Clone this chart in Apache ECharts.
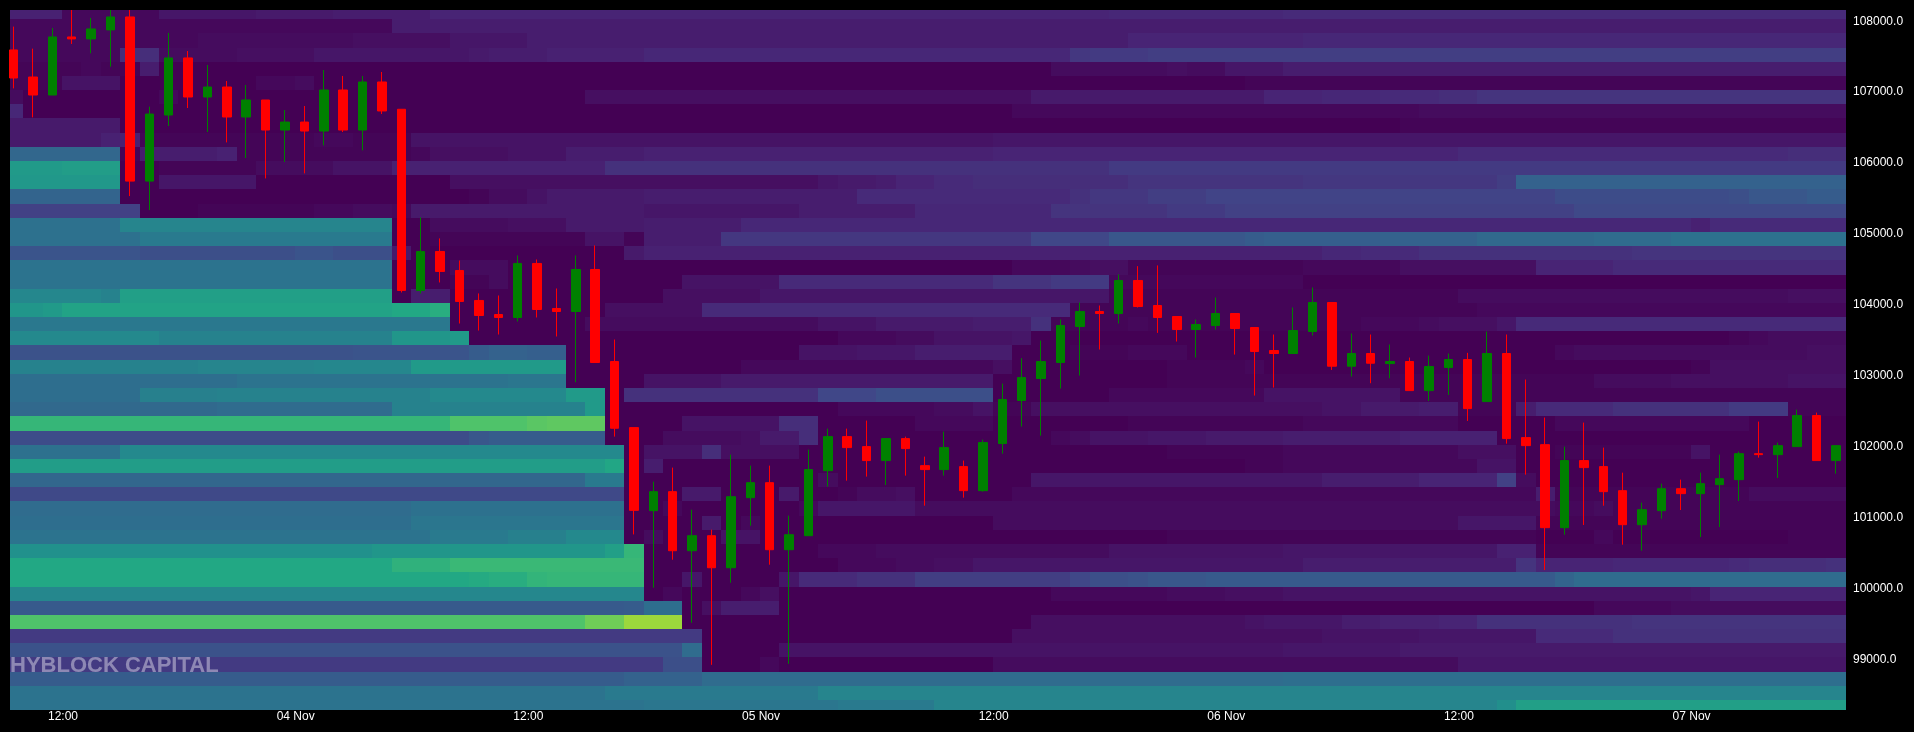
<!DOCTYPE html>
<html>
<head>
<meta charset="utf-8">
<title>HYBLOCK CAPITAL</title>
<style>
  html, body { margin: 0; padding: 0; background: #000; }
  #chart { width: 1914px; height: 732px; }
</style>
<script src="https://cdn.jsdelivr.net/npm/echarts@6/dist/echarts.min.js"></script>
</head>
<body>
<div id="chart"></div>
<script>
// hourly candles, first one opens 03 Nov 09:00 UTC
const HOUR = 3600000
const firstCandle = Date.UTC(2025, 10, 3, 9)
const axisStart = Date.UTC(2025, 10, 3, 9, 19)
const axisEnd = Date.UTC(2025, 10, 7, 8, 4)

const xTicks = ['2025-11-03T12:00Z', '2025-11-04T00:00Z', '2025-11-04T12:00Z', '2025-11-05T00:00Z',
  '2025-11-05T12:00Z', '2025-11-06T00:00Z', '2025-11-06T12:00Z', '2025-11-07T00:00Z']
const yTicks = [99000, 100000, 101000, 102000, 103000, 104000, 105000, 106000, 107000, 108000]
const monthNames = ['Jan', 'Feb', 'Mar', 'Apr', 'May', 'Jun', 'Jul', 'Aug', 'Sep', 'Oct', 'Nov', 'Dec']

const opens = [107567, 107185, 106931, 107750, 107722, 107849, 108032, 105717, 106649, 107454, 106903, 107044, 106621, 106861, 106437, 106550, 106423, 107002, 106437, 107115,
  106730, 104175, 104725, 104457, 104034, 103836, 103794, 104556, 103921, 103878, 104471, 103173, 102241, 101070, 101338, 100505, 100717, 100265, 101253, 101465,
  100519, 100717, 101634, 102114, 101973, 101776, 102086, 101705, 101649, 101691, 101352, 102016, 102623, 102933, 103159, 103667, 103878, 103850, 104316, 103963,
  103808, 103624, 103681, 103850, 103653, 103328, 103286, 103596, 104005, 103107, 103286, 103144, 103173, 102763, 103088, 103201, 102608, 103286, 102100, 102001,
  100830, 101776, 101691, 101352, 100872, 101070, 101380, 101310, 101437, 101507, 101874, 101860, 101973, 102411, 101776]
const closes = [107171, 106931, 107750, 107722, 107863, 108032, 105717, 106663, 107454, 106903, 107044, 106621, 106861, 106437, 106550, 106423, 107002, 106437, 107115, 106706,
  104175, 104725, 104443, 104020, 103822, 103794, 104556, 103907, 103878, 104471, 103159, 102232, 101074, 101338, 100505, 100717, 100265, 101267, 101465, 100519,
  100731, 101649, 102114, 101959, 101776, 102086, 101945, 101649, 101959, 101352, 102030, 102637, 102947, 103173, 103681, 103878, 103850, 104316, 103949, 103794,
  103624, 103695, 103850, 103638, 103314, 103286, 103610, 104005, 103107, 103286, 103149, 103173, 102763, 103102, 103201, 102509, 103286, 102086, 101987, 100830,
  101776, 101677, 101338, 100872, 101084, 101380, 101310, 101451, 101521, 101874, 101860, 101987, 102411, 101776, 101987]
const lows = [107025, 106616, 106931, 107651, 107520, 107331, 105506, 105308, 106494, 106748, 106409, 106263, 106042, 105755, 105986, 105826, 106221, 106409, 106150, 106663,
  104147, 104133, 104288, 103709, 103610, 103554, 103737, 103794, 103526, 102881, 103154, 102114, 100735, 99983, 100378, 99489, 98896, 100054, 100858, 100308,
  98910, 100717, 101409, 101493, 101550, 101432, 101564, 101140, 101564, 101253, 101338, 101874, 102256, 102128, 102792, 102975, 103342, 103709, 103935, 103577,
  103455, 103229, 103624, 103271, 102693, 102806, 103286, 103540, 103055, 102961, 102867, 102937, 102763, 102617, 102702, 102335, 102608, 102015, 101578, 100232,
  100731, 100868, 101140, 100590, 100505, 100957, 101079, 100698, 100839, 101206, 101818, 101531, 101973, 101776, 101592]
const highs = [107896, 107585, 107877, 108130, 108018, 108130, 108130, 106767, 107807, 107552, 107355, 107129, 107073, 106861, 106720, 106776, 107284, 107200, 107200, 107256,
  106730, 105205, 104909, 104598, 104133, 104104, 104669, 104612, 104203, 104669, 104810, 103483, 102241, 101479, 101677, 101084, 100802, 101860, 101705, 101705,
  101000, 101931, 102227, 102227, 102340, 102086, 102114, 101832, 102185, 101776, 102072, 102862, 103220, 103469, 103766, 104005, 103963, 104401, 104518, 104528,
  103808, 103766, 104076, 103850, 103653, 103554, 103935, 104217, 104005, 103568, 103554, 103413, 103229, 103257, 103286, 103295, 103596, 103554, 102919, 102383,
  101973, 102312, 101959, 101606, 101183, 101451, 101507, 101606, 101860, 101903, 102326, 102030, 102495, 102453, 101987]

// lower edge of each 200-wide price bin, top row first
const priceBins = [108000, 107800, 107600, 107400, 107200, 107000, 106800, 106600, 106400, 106200,
  106000, 105800, 105600, 105400, 105200, 105000, 104800, 104600, 104400, 104200,
  104000, 103800, 103600, 103400, 103200, 103000, 102800, 102600, 102400, 102200,
  102000, 101800, 101600, 101400, 101200, 101000, 100800, 100600, 100400, 100200,
  100000, 99800, 99600, 99400, 99200, 99000, 98800, 98600, 98400, 98200]

// one row per price bin, pairs of: candle index where the run starts, liquidity level (0-100)
const liquidityRuns = [
  [0, 9, 3, 2, 8, 6, 13, 7, 17, 8, 22, 10, 57, 11, 66, 12],
  [0, 2, 20, 8],
  [0, 2, 10, 3, 18, 4, 23, 6, 27, 8, 58, 10, 67, 11],
  [0, 2, 6, 13, 8, 3, 12, 4, 16, 6, 24, 7, 25, 8, 28, 9, 33, 11, 55, 16, 56, 17, 59, 18],
  [0, 1, 4, 2, 5, 1, 7, 8, 8, 0, 54, 3, 60, 4, 61, 3, 63, 6, 66, 8],
  [0, 1, 3, 5, 6, 0, 13, 2, 15, 3, 16, 0, 64, 1],
  [0, 3, 1, 0, 8, 2, 9, 0, 30, 4, 53, 7, 65, 10, 68, 11, 71, 12, 74, 13, 76, 15],
  [0, 11, 1, 0, 52, 2, 73, 3],
  [0, 7, 6, 0, 72, 1],
  [0, 7, 5, 9, 7, 1, 16, 2, 18, 1, 21, 5, 51, 6],
  [0, 33, 6, 1, 7, 8, 11, 9, 12, 1, 21, 2, 22, 4, 26, 5, 29, 8, 33, 9, 51, 10, 75, 12, 92, 13],
  [0, 54, 3, 55, 6, 0, 8, 1, 13, 3, 17, 5, 20, 9, 31, 14, 57, 17],
  [0, 53, 6, 0, 8, 6, 13, 0, 23, 4, 42, 6, 43, 7, 45, 8, 46, 10, 48, 12, 50, 13, 58, 15, 67, 16, 77, 18, 78, 31],
  [0, 32, 6, 0, 24, 1, 25, 3, 27, 5, 28, 7, 33, 8, 44, 12, 55, 14, 56, 16, 59, 18, 62, 20, 80, 23, 89, 24, 90, 27, 93, 29],
  [0, 19, 7, 0, 10, 1, 16, 2, 18, 3, 20, 2, 21, 7, 33, 6, 41, 8, 47, 11, 54, 15, 60, 17, 63, 19, 81, 22],
  [0, 37, 6, 45, 20, 0, 22, 3, 26, 4, 29, 7, 33, 8, 38, 11, 87, 9, 88, 12],
  [0, 37, 7, 41, 20, 0, 22, 1, 30, 5, 32, 1, 33, 8, 37, 16, 53, 21, 57, 27, 64, 29, 65, 30, 71, 31, 76, 34, 82, 35, 86, 37],
  [0, 26, 7, 24, 15, 26, 17, 24, 20, 7, 21, 0, 32, 7, 33, 9, 68, 11, 70, 12, 73, 14, 84, 15],
  [0, 38, 20, 0, 23, 3, 26, 0, 52, 2, 55, 3, 56, 4, 58, 1, 67, 2, 72, 4, 79, 10, 83, 12],
  [0, 38, 20, 0, 23, 1, 25, 3, 26, 0, 35, 5, 40, 12, 51, 15, 54, 17, 57, 2, 67, 0],
  [0, 46, 5, 44, 6, 56, 20, 0, 21, 8, 23, 0, 34, 4, 39, 6, 57, 1, 75, 3, 92, 4],
  [0, 52, 2, 54, 3, 58, 20, 60, 22, 62, 23, 0, 31, 4, 36, 12, 55, 1, 76, 2],
  [0, 40, 23, 0, 30, 3, 42, 5, 45, 7, 50, 8, 53, 14, 54, 1, 58, 2, 59, 1, 70, 2, 73, 3, 74, 4, 77, 6, 78, 12],
  [0, 47, 8, 44, 20, 52, 23, 54, 24, 0, 43, 2, 46, 3, 48, 5, 52, 6, 53, 0, 89, 1, 90, 2, 91, 3],
  [0, 25, 18, 26, 24, 29, 25, 31, 27, 30, 29, 0, 41, 5, 44, 6, 47, 8, 52, 0, 55, 1, 58, 2, 61, 0, 80, 2, 81, 3, 93, 4],
  [0, 44, 10, 45, 16, 46, 21, 54, 29, 0, 38, 2, 51, 4, 52, 0, 60, 1, 64, 2, 65, 0, 87, 1, 88, 4],
  [0, 36, 12, 38, 26, 39, 29, 0, 33, 5, 37, 7, 51, 0, 60, 1, 82, 3, 86, 4, 92, 5],
  [0, 36, 7, 43, 11, 44, 22, 47, 29, 54, 31, 0, 32, 14, 42, 21, 45, 24, 51, 0, 57, 2, 65, 5, 72, 1],
  [0, 34, 11, 35, 20, 44, 30, 54, 31, 0, 43, 2, 48, 3, 50, 5, 51, 1, 53, 4, 68, 5, 70, 7, 73, 8, 75, 1, 78, 8, 79, 12, 83, 14, 89, 17, 92, 1],
  [0, 66, 23, 72, 27, 74, 28, 75, 31, 0, 35, 5, 40, 13, 42, 0, 47, 2, 51, 0, 58, 1, 67, 2, 75, 0, 80, 2, 90, 0],
  [0, 23, 24, 27, 25, 29, 31, 0, 34, 3, 38, 4, 39, 7, 41, 13, 42, 0, 54, 2, 55, 3, 56, 5, 59, 6, 62, 7, 66, 8, 72, 9, 77, 0],
  [0, 37, 6, 47, 32, 0, 33, 5, 36, 13, 37, 4, 41, 0, 60, 1, 66, 2, 75, 4, 78, 0, 80, 1, 87, 5, 88, 0],
  [0, 55, 31, 59, 32, 0, 33, 8, 34, 0, 64, 1, 66, 2, 76, 5, 78, 0],
  [0, 33, 30, 41, 32, 0, 42, 3, 43, 0, 53, 6, 68, 8, 73, 10, 77, 19, 78, 3, 79, 0],
  [0, 22, 32, 0, 35, 7, 37, 0, 40, 7, 41, 0, 43, 1, 44, 3, 46, 4, 47, 0, 52, 2, 79, 8, 80, 1, 90, 3],
  [0, 35, 21, 37, 32, 0, 34, 2, 35, 0, 41, 2, 42, 6, 47, 3, 80, 2, 82, 3, 83, 1],
  [0, 36, 21, 39, 32, 0, 36, 7, 37, 0, 38, 2, 39, 0, 51, 3, 75, 6, 79, 1],
  [0, 38, 22, 41, 26, 43, 29, 47, 32, 0, 33, 3, 34, 0, 37, 5, 39, 0, 60, 1, 79, 0, 82, 2, 83, 0, 92, 1],
  [0, 50, 19, 52, 31, 56, 32, 66, 33, 0, 42, 2, 45, 3, 57, 5, 66, 6, 77, 9, 79, 1],
  [0, 60, 20, 64, 23, 67, 33, 0, 43, 2, 46, 3, 48, 4, 50, 6, 67, 8, 78, 15, 79, 10, 83, 11, 89, 12, 90, 13, 94, 14],
  [0, 60, 24, 61, 25, 62, 27, 65, 28, 66, 33, 0, 35, 6, 36, 0, 40, 6, 41, 12, 44, 14, 47, 18, 55, 21, 56, 24, 58, 25, 59, 27, 62, 28, 80, 32, 81, 35],
  [0, 46, 33, 0, 34, 2, 35, 0, 38, 2, 39, 4, 40, 0, 54, 2, 60, 3, 63, 4, 66, 5, 87, 6, 88, 10],
  [0, 28, 32, 29, 33, 36, 35, 0, 36, 4, 37, 8, 40, 0, 82, 2, 86, 3],
  [0, 72, 30, 78, 32, 85, 35, 0, 53, 4, 64, 5, 65, 6, 69, 8, 71, 9, 74, 10, 76, 14, 84, 15],
  [0, 17, 36, 0, 52, 4, 68, 5, 73, 6, 79, 12, 83, 14],
  [0, 25, 35, 35, 36, 0, 40, 5, 66, 6, 72, 7],
  [0, 17, 34, 24, 36, 0, 39, 2, 40, 0, 51, 3, 75, 6],
  [0, 29, 32, 31, 36, 35, 66, 36],
  [0, 38, 31, 41, 42, 45],
  [0, 38, 33, 39, 43, 41, 48, 45, 77, 49, 78, 56]
]

const viridis = ['#440154', '#482475', '#414487', '#355f8d', '#2a788e', '#21918c', '#22a884', '#44bf70', '#7ad151', '#bddf26', '#fde725']
const binSize = 200
const candleCount = opens.length

const candleTime = i => firstCandle + i * HOUR

// turn the runs into [start time, end time, low price, high price, level]
const heatData = []
liquidityRuns.forEach((runs, row) => {
  for (let r = 0; r < runs.length; r += 2) {
    const end = r + 2 < runs.length ? runs[r + 2] : candleCount
    heatData.push([candleTime(runs[r]), candleTime(end), priceBins[row], priceBins[row] + binSize, runs[r + 1]])
  }
})

// candle sits in the middle of its hour
const candleData = opens.map((open, i) => [candleTime(i) + HOUR / 2, open, closes[i], lows[i], highs[i]])

function renderCell(params, api) {
  const from = api.coord([api.value(0), api.value(3)])
  const to = api.coord([api.value(1), api.value(2)])
  // snap to whole pixels so neighbouring cells leave no seam
  const rect = echarts.graphic.clipRectByRect({
    x: Math.round(from[0]),
    y: Math.round(from[1]),
    width: Math.round(to[0]) - Math.round(from[0]),
    height: Math.round(to[1]) - Math.round(from[1])
  }, params.coordSys)
  return rect && { type: 'rect', shape: rect, style: { fill: api.visual('color') } }
}

function formatTime(value) {
  const d = new Date(value)
  if (d.getUTCHours() === 12) {
    return '12:00'
  }
  return String(d.getUTCDate()).padStart(2, '0') + ' ' + monthNames[d.getUTCMonth()]
}

const myChart = echarts.init(document.getElementById('chart'))
myChart.setOption({
  animation: false,
  backgroundColor: '#000',
  textStyle: { fontFamily: '"Liberation Sans", Arial, sans-serif' },
  grid: { left: 10, right: 67, top: 10, bottom: 22 },
  visualMap: {
    show: false,
    type: 'continuous',
    seriesIndex: 0,
    dimension: 4,
    min: 0,
    max: 100,
    inRange: { color: viridis }
  },
  xAxis: {
    type: 'value',
    min: axisStart,
    max: axisEnd,
    axisLine: { show: false },
    axisTick: { show: false },
    splitLine: { show: false },
    axisLabel: {
      color: '#fff',
      fontSize: 12,
      margin: 1,
      padding: [0, 0, 0, 2],
      customValues: xTicks.map(t => Date.parse(t)),
      formatter: formatTime
    }
  },
  yAxis: {
    type: 'value',
    position: 'right',
    min: 98259,
    max: 108130,
    axisLine: { show: false },
    axisTick: { show: false },
    splitLine: { show: false },
    axisLabel: {
      color: '#fff',
      fontSize: 12,
      margin: 6,
      // labels sit a little under their tick in the reference
      verticalAlign: 'top',
      lineHeight: 4,
      customValues: yTicks,
      formatter: value => value.toFixed(1)
    }
  },
  graphic: [{
    type: 'text',
    left: 10,
    top: 655,
    z: 100,
    style: {
      text: 'HYBLOCK CAPITAL',
      fill: 'rgba(255, 255, 255, 0.4)',
      font: 'bold 22px "Liberation Sans", Arial, sans-serif'
    }
  }],
  series: [
    {
      type: 'custom',
      renderItem: renderCell,
      clip: true,
      silent: true,
      encode: { x: [0, 1], y: [2, 3] },
      data: heatData,
      z: 1
    },
    {
      type: 'candlestick',
      barWidth: 9,
      clip: true,
      z: 2,
      itemStyle: {
        color: '#008000',
        color0: '#ff0000',
        borderColor: '#008000',
        borderColor0: '#ff0000',
        borderWidth: 1
      },
      encode: { x: 0, y: [1, 2, 3, 4] },
      data: candleData
    }
  ]
})
</script>
</body>
</html>
